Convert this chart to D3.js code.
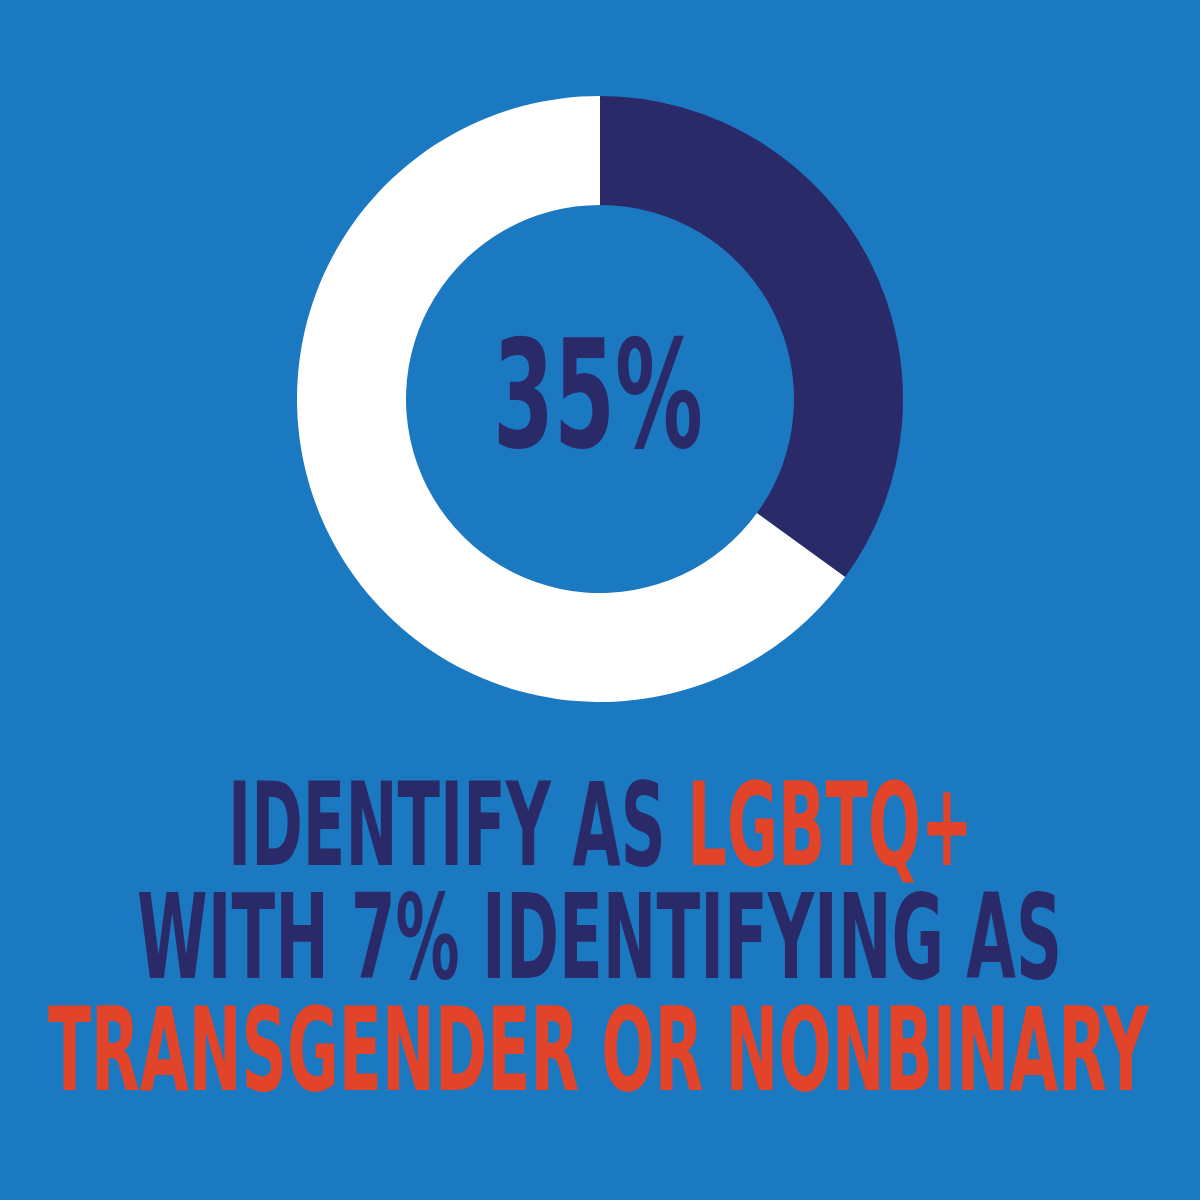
<!DOCTYPE html>
<html>
<head>
<meta charset="utf-8">
<script src="https://cdn.jsdelivr.net/npm/d3@7"></script>
<style>
html,body{margin:0;padding:0;background:#1b79c1;}
svg{display:block;}
</style>
</head>
<body>
<svg id="chart" width="1200" height="1200"></svg>
<script>
// ---- data ----
const categories = ["LGBTQ+", "Other"];
const values = [35, 65];
const centerLabel = "35%";
const lines = [
  [{t: "IDENTIFY AS ", c: "navy"}, {t: "LGBTQ+", c: "orange"}],
  [{t: "WITH 7% IDENTIFYING AS", c: "navy"}],
  [{t: "TRANSGENDER OR NONBINARY", c: "orange"}]
];

// ---- styles ----
const colors = {bg: "#1b79c1", navy: "#2b2a69", orange: "#e2442a", white: "#ffffff"};
const sliceColors = [colors.navy, colors.white];
const fontFamily = "'Liberation Sans Narrow','DejaVu Sans Condensed','Arial Narrow',sans-serif";

const svg = d3.select("#chart");
svg.append("rect").attr("width", 1200).attr("height", 1200).attr("fill", colors.bg);

// donut
const cx = 600, cy = 399, outerR = 303, innerR = 194;
const pie = d3.pie().sort(null).value(d => d)(values);
const arc = d3.arc().innerRadius(innerR).outerRadius(outerR);
const g = svg.append("g").attr("transform", `translate(${cx},${cy})`);
g.selectAll("path").data(pie).join("path")
  .attr("d", arc)
  .attr("fill", (d, i) => sliceColors[i]);

// helper to fit text: cap height -> font size, width -> x scale
const CAP = 0.729;
function fitText(parts, x0, x1, top, baseline, anchorG) {
  const capH = baseline - top;
  const fs = capH / CAP;
  const grp = anchorG.append("g");
  const txt = grp.append("text")
    .attr("x", 0).attr("y", 0)
    .attr("font-family", fontFamily)
    .attr("font-weight", "bold")
    .attr("font-size", fs);
  parts.forEach(p => {
    txt.append("tspan").text(p.t).attr("fill", colors[p.c]).style("white-space", "pre");
  });
  txt.attr("xml:space", "preserve");
  const bb = txt.node().getBBox();
  const sx = (x1 - x0) / bb.width;
  grp.attr("transform", `translate(${x0 - bb.x * sx},${baseline}) scale(${sx},1)`);
  return txt;
}

fitText([{t: centerLabel, c: "navy"}], 493, 703, 338, 447, svg);
fitText(lines[0], 228, 973, 780, 865, svg);
fitText(lines[1], 137, 1062, 892, 978, svg);
fitText(lines[2], 48, 1150, 1005, 1090, svg);
</script>
</body>
</html>
